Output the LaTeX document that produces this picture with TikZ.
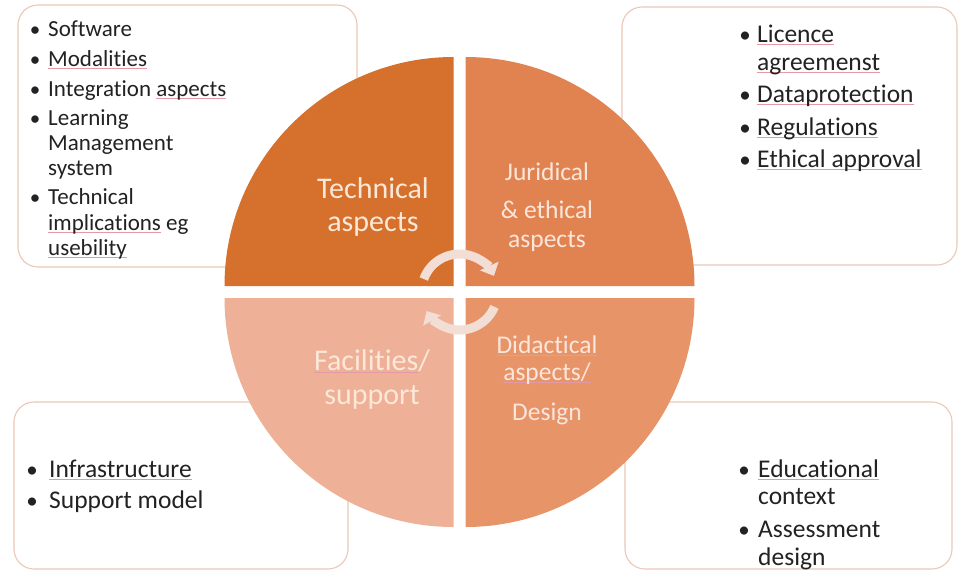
\documentclass[tikz,border=0pt]{standalone}
\usepackage{fontspec}
\setmainfont{Carlito}[Ligatures=NoCommon]
\usetikzlibrary{arrows.meta,calc}
\definecolor{boxc}{HTML}{EBC8B8}
\definecolor{txt}{HTML}{222222}
\definecolor{qa}{HTML}{D5702D}
\definecolor{qb}{HTML}{E18350}
\definecolor{qc}{HTML}{E79469}
\definecolor{qd}{HTML}{EEB096}
\definecolor{laba}{HTML}{FBE8D8}
\definecolor{labb}{HTML}{FBE6DC}
\definecolor{ringc}{HTML}{F3DED6}
\definecolor{sqc}{HTML}{E39AA5}
\newsavebox\sqbox
\newcommand\sq[1]{\sbox\sqbox{#1}\rlap{\textcolor{sqc}{\rule[-2.5pt]{\wd\sqbox}{0.9pt}}}\usebox\sqbox}
\tikzset{
  box/.style={draw=boxc, line width=1.1pt, rounded corners=20pt, fill=white},
  itmL/.style={anchor=base west, inner sep=0pt, text=txt, font=\fontsize{23}{25}\selectfont},
  itmR/.style={anchor=base west, inner sep=0pt, text=txt, font=\fontsize{25.5}{28}\selectfont},
  bulL/.style={anchor=base, inner sep=0pt, text=txt, font=\fontsize{21}{25}\selectfont},
  bulR/.style={anchor=base, inner sep=0pt, text=txt, font=\fontsize{23}{26}\selectfont},
  qbig/.style={anchor=base, inner sep=0pt, text=laba, font=\fontsize{30}{32}\selectfont},
  qsmall/.style={anchor=base, inner sep=0pt, text=labb, font=\fontsize{25.5}{28}\selectfont},
  ring/.style={draw=ringc, line width=9pt},
}
\begin{document}
\begin{tikzpicture}[x=1pt,y=-1pt]
\useasboundingbox (0,0) rectangle (961,571);
\fill[white] (0,0) rectangle (961,571);
% boxes
\draw[box] (18,5) rectangle (357,267);
\draw[box] (622,7) rectangle (957,265);
\draw[box] (14,402) rectangle (348,569);
\draw[box] (625,402) rectangle (952,569);
% quadrants
\coordinate (c) at (459.5,292);
\fill[qa] (453.5,286) -- ++(-229,0) arc[start angle=180,end angle=270,radius=229] -- cycle;
\fill[qb] (465.5,286) -- ++(229,0) arc[start angle=0,end angle=-90,radius=229] -- cycle;
\fill[qd] (453.5,298) -- ++(-229,0) arc[start angle=180,end angle=90,radius=229] -- cycle;
\fill[qc] (465.5,298) -- ++(229,0) arc[start angle=0,end angle=90,radius=229] -- cycle;
% cycle arrows
\draw[ring,-{Triangle[width=20pt,length=11pt]}] ([shift={(-160:38)}]c) arc[start angle=-160,end angle=-25,radius=38];
\draw[ring,-{Triangle[width=20pt,length=11pt]}] ([shift={(23:38)}]c) arc[start angle=23,end angle=150,radius=38];
% quadrant labels
\node[qbig] (ta) at (373,198) {Technical};
\node[qbig] (tb) at (373,231) {aspects};
\node[qsmall] (ja) at (547,180) {Juridical};
\node[qsmall] (jb) at (547,218) {\& ethical};
\node[qsmall] (jc) at (547,247) {aspects};
\node[qbig] (fa) at (372,370) {\sq{Facilities}/};
\node[qbig] (fb) at (372,404) {support};
\node[qsmall] (da) at (547,353) {\sq{Didactical}};
\node[qsmall] (db) at (547,380) {\sq{aspects/}};
\node[qsmall] (dc) at (547,420) {Design};
% top-left list
\foreach \n/\y in {1/36,2/66,3/96,4/125,5/204} \node[bulL] (tlb\n) at (35,\y) {•};
\node[itmL] (tl1) at (48,36) {Software};
\node[itmL] (tl2) at (48,66) {\sq{Modalities}};
\node[itmL] (tl3) at (48,96) {Integration \sq{aspects}};
\node[itmL] (tl4) at (48,125) {Learning};
\node[itmL] (tl5) at (48,150) {Management};
\node[itmL] (tl6) at (48,175) {system};
\node[itmL] (tl7) at (48,204) {Technical};
\node[itmL] (tl8) at (48,230) {\sq{implications} eg};
\node[itmL] (tl9) at (48,255) {\sq{usebility}};
% top-right list
\foreach \n/\y in {1/42,2/102,3/135,4/167} \node[bulR] (trb\n) at (745,\y) {•};
\node[itmR] (tr1) at (757,42) {\sq{Licence}};
\node[itmR] (tr2) at (757,70) {\sq{agreemenst}};
\node[itmR] (tr3) at (757,102) {\sq{Dataprotection}};
\node[itmR] (tr4) at (757,135) {\sq{Regulations}};
\node[itmR] (tr5) at (757,167) {\sq{Ethical approval}};
% bottom-left list
\foreach \n/\y in {1/477,2/508} \node[bulR] (blb\n) at (32,\y) {•};
\node[itmR] (bl1) at (49,477) {\sq{Infrastructure}};
\node[itmR] (bl2) at (49,508) {Support model};
% bottom-right list
\foreach \n/\y in {1/477,2/537} \node[bulR] (brb\n) at (744,\y) {•};
\node[itmR] (br1) at (758,477) {\sq{Educational}};
\node[itmR] (br2) at (758,504) {context};
\node[itmR] (br3) at (758,537) {Assessment};
\node[itmR] (br4) at (758,565) {design};
\end{tikzpicture}
\end{document}
